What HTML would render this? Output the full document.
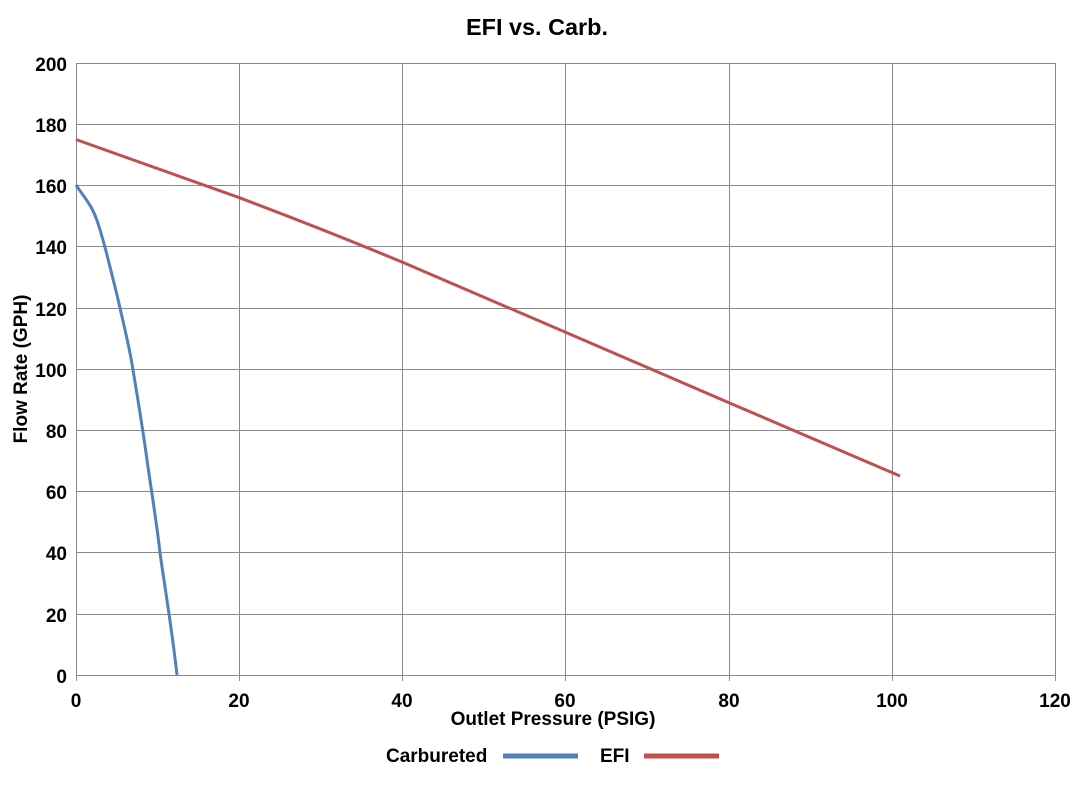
<!DOCTYPE html>
<html><head><style>body{margin:0;background:#fff}</style></head><body>
<svg width="1079" height="785" xmlns="http://www.w3.org/2000/svg" font-family="Liberation Sans, sans-serif" font-weight="bold">
<rect width="1079" height="785" fill="#fff"/>
<text x="537" y="35" text-anchor="middle" font-size="23" textLength="142" lengthAdjust="spacingAndGlyphs">EFI vs. Carb.</text>
<g stroke="#8a8a8a" stroke-width="1">
<line x1="76" y1="63.5" x2="1055" y2="63.5"/><line x1="76" y1="124.5" x2="1055" y2="124.5"/><line x1="76" y1="185.5" x2="1055" y2="185.5"/><line x1="76" y1="246.5" x2="1055" y2="246.5"/><line x1="76" y1="308.5" x2="1055" y2="308.5"/><line x1="76" y1="369.5" x2="1055" y2="369.5"/><line x1="76" y1="430.5" x2="1055" y2="430.5"/><line x1="76" y1="491.5" x2="1055" y2="491.5"/><line x1="76" y1="552.5" x2="1055" y2="552.5"/><line x1="76" y1="614.5" x2="1055" y2="614.5"/><line x1="76" y1="675.5" x2="1055" y2="675.5"/>
<line x1="76.5" y1="63" x2="76.5" y2="681"/><line x1="239.5" y1="63" x2="239.5" y2="681"/><line x1="402.5" y1="63" x2="402.5" y2="681"/><line x1="565.5" y1="63" x2="565.5" y2="681"/><line x1="729.5" y1="63" x2="729.5" y2="681"/><line x1="892.5" y1="63" x2="892.5" y2="681"/><line x1="1055.5" y1="63" x2="1055.5" y2="681"/>
</g>
<g font-size="19" text-anchor="end">
<text x="67" y="71">200</text><text x="67" y="132">180</text><text x="67" y="193">160</text><text x="67" y="254">140</text><text x="67" y="316">120</text><text x="67" y="377">100</text><text x="67" y="438">80</text><text x="67" y="499">60</text><text x="67" y="560">40</text><text x="67" y="622">20</text><text x="67" y="683">0</text>
</g>
<g font-size="19" text-anchor="middle">
<text x="76" y="707">0</text><text x="239" y="707">20</text><text x="402" y="707">40</text><text x="565" y="707">60</text><text x="729" y="707">80</text><text x="892" y="707">100</text><text x="1055" y="707">120</text>
</g>
<text x="553" y="725" font-size="19" text-anchor="middle">Outlet Pressure (PSIG)</text>
<text transform="translate(27,369) rotate(-90)" font-size="19" text-anchor="middle">Flow Rate (GPH)</text>
<path d="M76,139.5 L239,197.6 Q320,228 402,262 L565,332 L729,402.7 L900,476" fill="none" stroke="#c0504d" stroke-width="3"/>
<path d="M76,185 C84,197 92,206 96,218 C100,228 103,240 107,255 C112,275 116,290 120,308 C125,330 130,350 133,370 C138,400 143,430 147,460 C152,495 157,525 160,553 C166,595 172,630 177,675" fill="none" stroke="#4f81bd" stroke-width="3"/>
<text x="386" y="762" font-size="19">Carbureted</text>
<line x1="503" y1="756" x2="578" y2="756" stroke="#4f81bd" stroke-width="5"/>
<text x="600" y="762" font-size="19">EFI</text>
<line x1="644" y1="756" x2="719" y2="756" stroke="#c0504d" stroke-width="5"/>
</svg>
</body></html>
